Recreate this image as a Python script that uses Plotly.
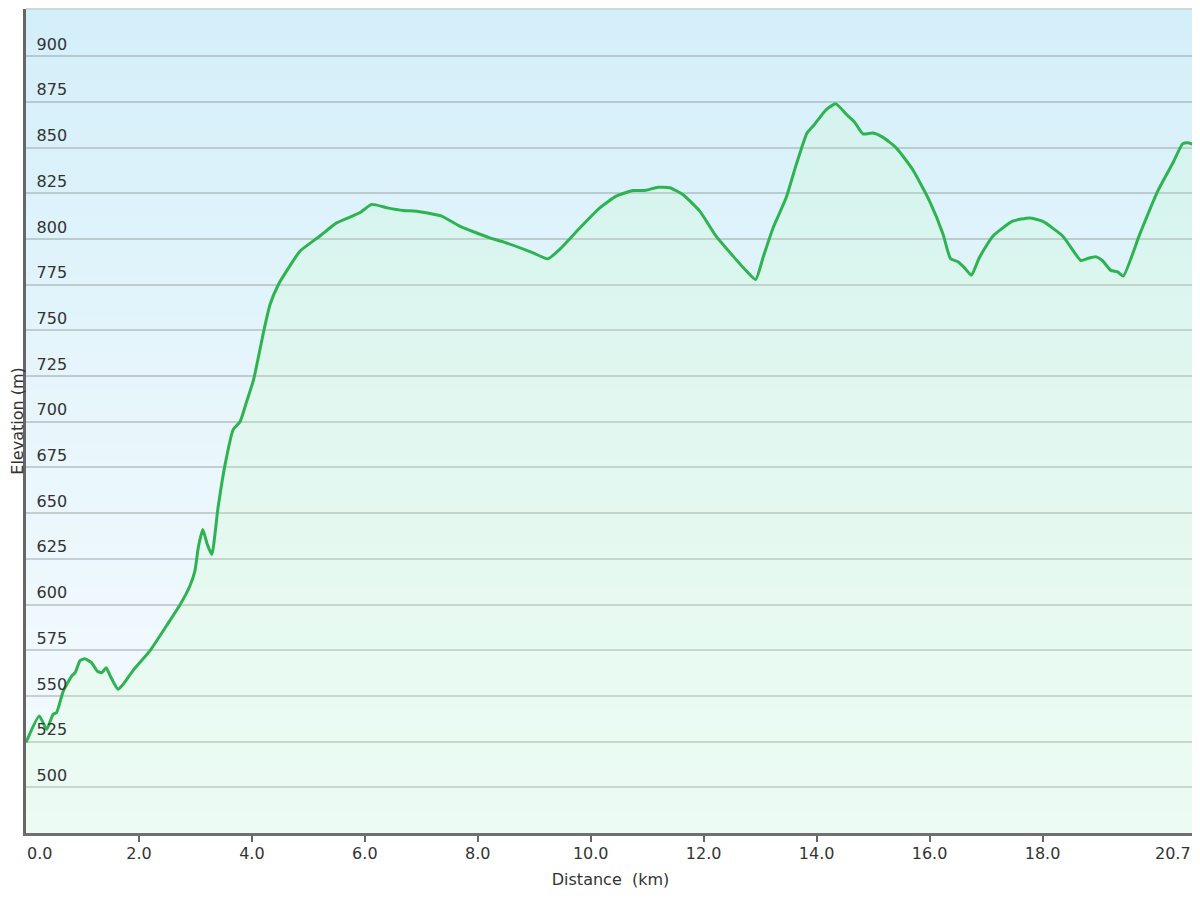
import plotly.graph_objects as go

# ---- data ----
distance_km = [0.0, 0.235, 0.366, 0.48, 0.54, 0.66, 0.81, 0.87, 0.96, 1.04, 1.16, 1.26, 1.34,
               1.42, 1.49, 1.63, 1.72, 1.91, 2.19, 2.49, 2.73, 2.90, 2.99, 3.05, 3.13, 3.21,
               3.29, 3.40, 3.52, 3.67, 3.79, 3.91, 4.03, 4.21, 4.32, 4.47, 4.67, 4.85, 5.2,
               5.5, 5.91, 6.12, 6.40, 6.68, 6.91, 7.36, 7.68, 8.21, 8.45, 8.98, 9.24, 9.48,
               9.81, 10.16, 10.45, 10.75, 10.96, 11.19, 11.40, 11.63, 11.93, 12.22, 12.52,
               12.76, 12.92, 13.05, 13.23, 13.46, 13.64, 13.83, 13.96, 14.17, 14.34, 14.53,
               14.67, 14.82, 15.0, 15.17, 15.41, 15.70, 16.0, 16.24, 16.37, 16.50, 16.62,
               16.74, 16.88, 17.12, 17.47, 17.77, 18.0, 18.36, 18.68, 18.80, 18.95, 19.06,
               19.21, 19.33, 19.43, 19.72, 20.04, 20.31, 20.48, 20.57, 20.67]
elevation_m = [524.5, 539.0, 531.7, 540.0, 540.8, 552.6, 560.9, 562.7, 569.4, 570.3, 568.2,
               563.6, 562.7, 565.4, 561.0, 553.6, 556.3, 564.5, 574.5, 588.5, 600.0, 610.0,
               618.3, 631.0, 641.0, 632.9, 627.4, 652.9, 675.7, 695.8, 700.0, 711.3, 723.0,
               749.6, 764.0, 775.1, 785.1, 793.3, 801.5, 808.8, 814.3, 818.9, 817.0, 815.6,
               815.2, 812.5, 807.0, 800.6, 798.4, 792.4, 789.1, 795.2, 806.1, 817.0, 823.4,
               826.5, 826.5, 828.3, 828.0, 824.3, 815.2, 801.5, 790.6, 782.4, 777.8, 789.7,
               806.1, 822.5, 840.8, 858.0, 862.6, 870.8, 873.9, 868.1, 864.0, 857.5, 858.0,
               855.7, 849.8, 838.0, 820.7, 802.5, 789.3, 787.5, 784.2, 780.2, 789.7, 801.5,
               809.7, 811.5, 809.7, 801.5, 788.2, 789.3, 790.2, 788.2, 782.8, 782.0, 779.7,
               802.5, 826.2, 841.7, 852.0, 852.6, 851.7]

x_tickvals = [0, 2, 4, 6, 8, 10, 12, 14, 16, 18, 20.7]
x_ticktext = ["0.0", "2.0", "4.0", "6.0", "8.0", "10.0", "12.0", "14.0", "16.0", "18.0", "20.7"]
y_tickvals = [500, 525, 550, 575, 600, 625, 650, 675, 700, 725, 750, 775, 800, 825, 850, 875, 900]
y_ticktext = [str(v) for v in y_tickvals]

FONT = "DejaVu Sans"
TXT = "#333333"

fig = go.Figure()
fig.add_trace(go.Scatter(
    x=distance_km, y=elevation_m, mode="lines",
    line=dict(color="#2db34f", width=3, shape="spline", smoothing=0.5),
    fill="tozeroy", fillcolor="rgba(196,255,181,0.17)",
    hoverinfo="x+y", showlegend=False,
))

# vertical background gradient (light blue at top to near white at bottom)
def lerp(c1, c2, t):
    return tuple(round(a + (b - a) * t) for a, b in zip(c1, c2))

stops = [(0.0, (244, 251, 255)), (0.2, (240, 249, 254)), (0.5, (232, 246, 251)), (1.0, (211, 239, 250))]
shapes = []
n = 80
for i in range(n):
    y0 = i / n
    y1 = (i + 1) / n
    ym = (y0 + y1) / 2
    for (p0, c0), (p1, c1) in zip(stops[:-1], stops[1:]):
        if p0 <= ym <= p1:
            col = lerp(c0, c1, (ym - p0) / (p1 - p0))
            break
    shapes.append(dict(type="rect", xref="paper", yref="paper", x0=0, x1=1, y0=y0, y1=y1 + 0.002,
                       fillcolor="rgb(%d,%d,%d)" % col, line=dict(width=0), layer="below"))
# light frame at top and right
shapes.append(dict(type="line", xref="paper", yref="paper", x0=0, x1=1, y0=1, y1=1,
                   line=dict(color="#cfcfcf", width=1.5), layer="below"))
shapes.append(dict(type="line", xref="paper", yref="paper", x0=1, x1=1, y0=0, y1=1,
                   line=dict(color="#cfcfcf", width=1.5), layer="below"))

# end tick labels are kept inside the plot width (first left-aligned, last right-aligned)
axis_ticktext = [""] + x_ticktext[1:-1] + [""]
annotations = [
    dict(x=x_tickvals[0], y=0, xref="x", yref="paper", text=x_ticktext[0], showarrow=False,
         xanchor="left", yanchor="top", xshift=-1, yshift=-9,
         font=dict(family=FONT, size=16, color=TXT)),
    dict(x=x_tickvals[-1], y=0, xref="x", yref="paper", text=x_ticktext[-1], showarrow=False,
         xanchor="right", yanchor="top", xshift=-2, yshift=-9,
         font=dict(family=FONT, size=16, color=TXT)),
]

# the page body has an 8px margin, so the figure is 1192x892 and placed at (8, 8)
fig.update_layout(
    width=1192, height=892,
    margin=dict(l=18, r=5, t=1, b=67, autoexpand=False),
    paper_bgcolor="white", plot_bgcolor="white",
    font=dict(family=FONT, size=16, color=TXT),
    shapes=shapes,
    annotations=annotations,
    xaxis=dict(
        range=[0, 20.7], tickmode="array", tickvals=x_tickvals, ticktext=axis_ticktext,
        showgrid=False, zeroline=False,
        showline=True, linecolor="#707070", linewidth=2.5,
        ticks="outside", ticklen=6, tickwidth=2, tickcolor="#666666",
        ticklabelstandoff=-2,
        tickfont=dict(family=FONT, size=16, color=TXT),
        title=dict(text="Distance\u00a0 (km)", font=dict(family=FONT, size=16, color=TXT), standoff=12),
        automargin=False,
    ),
    yaxis=dict(
        range=[475, 925.8], tickmode="array", tickvals=y_tickvals, ticktext=y_ticktext,
        showgrid=True, gridcolor="rgba(128,132,134,0.36)", gridwidth=1.6, zeroline=False,
        showline=True, linecolor="#666666", linewidth=2.5,
        ticks="", ticklabelposition="inside", ticklabelshift=-12, ticklabelstandoff=11,
        tickfont=dict(family=FONT, size=16, color=TXT),
        title=dict(text="Elevation (m)", font=dict(family=FONT, size=16, color=TXT), standoff=9),
        automargin=False,
    ),
)

fig.write_html("out.html")
